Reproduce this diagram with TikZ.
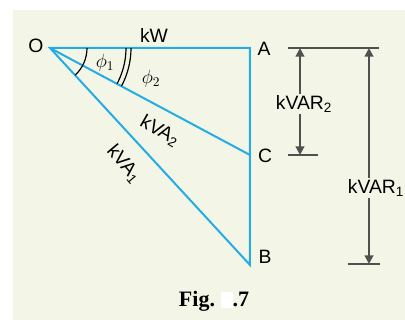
\documentclass[tikz,border=0pt]{standalone}
\usepackage{fontspec}
\setsansfont{Liberation Sans}
\setmainfont{Liberation Serif}
\usepackage{xcolor}
\usetikzlibrary{calc,arrows.meta,positioning}
\definecolor{pfBlue}{RGB}{38,172,228}
\definecolor{pfGray}{RGB}{80,80,80}
\definecolor{pfPaper}{RGB}{243,246,230}
\tikzset{
  phasor/.style={pfBlue, line width=1.5pt},
  dimline/.style={pfGray, line width=1.5pt},
  dimarrow/.style={dimline, -{Triangle[length=6.5pt,width=6.5pt]}},
  lbl/.style={font=\sffamily\fontsize{14.5}{16}\selectfont, inner sep=1pt},
}

\begin{document}
\begin{tikzpicture}[x=0.75pt,y=-0.75pt]
    \useasboundingbox (0,0) rectangle (405,320);
    \fill[pfPaper] (13,10) rectangle (405,320);

    % power triangle corners
    \coordinate (O) at (50,48);
    \coordinate (A) at (250,48);
    \coordinate (C) at (250,155);
    \coordinate (B) at (250,265);

    \draw[phasor] (O) -- (A) -- (B) -- cycle;
    \draw[phasor] (O) -- (C);

    \node[lbl] (lO) at (36,46) {O};
    \node[lbl] (lA) at (264,49) {A};
    \node[lbl] (lC) at (265,156) {C};
    \node[lbl] (lB) at (265,257) {B};
    \node[lbl] (kw) at (154,36) {kW};
    \node[lbl, rotate=-30] (kva2) at (160,131) {kVA\textsubscript{2}};
    \node[lbl, rotate=-50] (kva1) at (124,164) {kVA\textsubscript{1}};

    % angle marks
    \draw[line width=0.9pt] ($(O)+(0:37)$) arc[start angle=0, end angle=47, radius=37];
    \draw[line width=0.9pt] ($(O)+(0:76)$) arc[start angle=0, end angle=28, radius=76];
    \draw[line width=0.9pt] ($(O)+(0:81)$) arc[start angle=0, end angle=28, radius=81];
    \node[inner sep=0pt, font=\fontsize{14}{16}\selectfont] (phi1) at (105,63) {$\phi_1$};
    \node[inner sep=0pt, font=\fontsize{14}{16}\selectfont] (phi2) at (151,79) {$\phi_2$};

    % kVAR dimensions
    \coordinate (extL) at (288,48);
    \coordinate (extR) at (379,48);
    \coordinate (tA2) at (300,48);
    \coordinate (tC) at (300,155);
    \coordinate (tA1) at (369,48);
    \coordinate (tB) at (369,264);
    \draw[dimline] (extL) -- (extR);
    \draw[dimline] ($(tC)+(-12,0)$) -- ($(tC)+(18,0)$);
    \draw[dimline] ($(tB)+(-21,0)$) -- ($(tB)+(11,0)$);

    \node[lbl] (var2) at (304,104) {kVAR\textsubscript{2}};
    \node[lbl] (var1) at (376,188) {kVAR\textsubscript{1}};
    \draw[dimarrow] (var2.north -| tA2) -- (tA2);
    \draw[dimarrow] (var2.south -| tC) -- (tC);
    \draw[dimarrow] (var1.north -| tA1) -- (tA1);
    \draw[dimarrow] (var1.south -| tB) -- (tB);

    \node[font=\rmfamily\bfseries\fontsize{16.5}{18}\selectfont] (cap) at (214,301)
        {Fig.\ \textcolor{white}{\rule[-1pt]{9pt}{12pt}}.7};
\end{tikzpicture}
\end{document}
